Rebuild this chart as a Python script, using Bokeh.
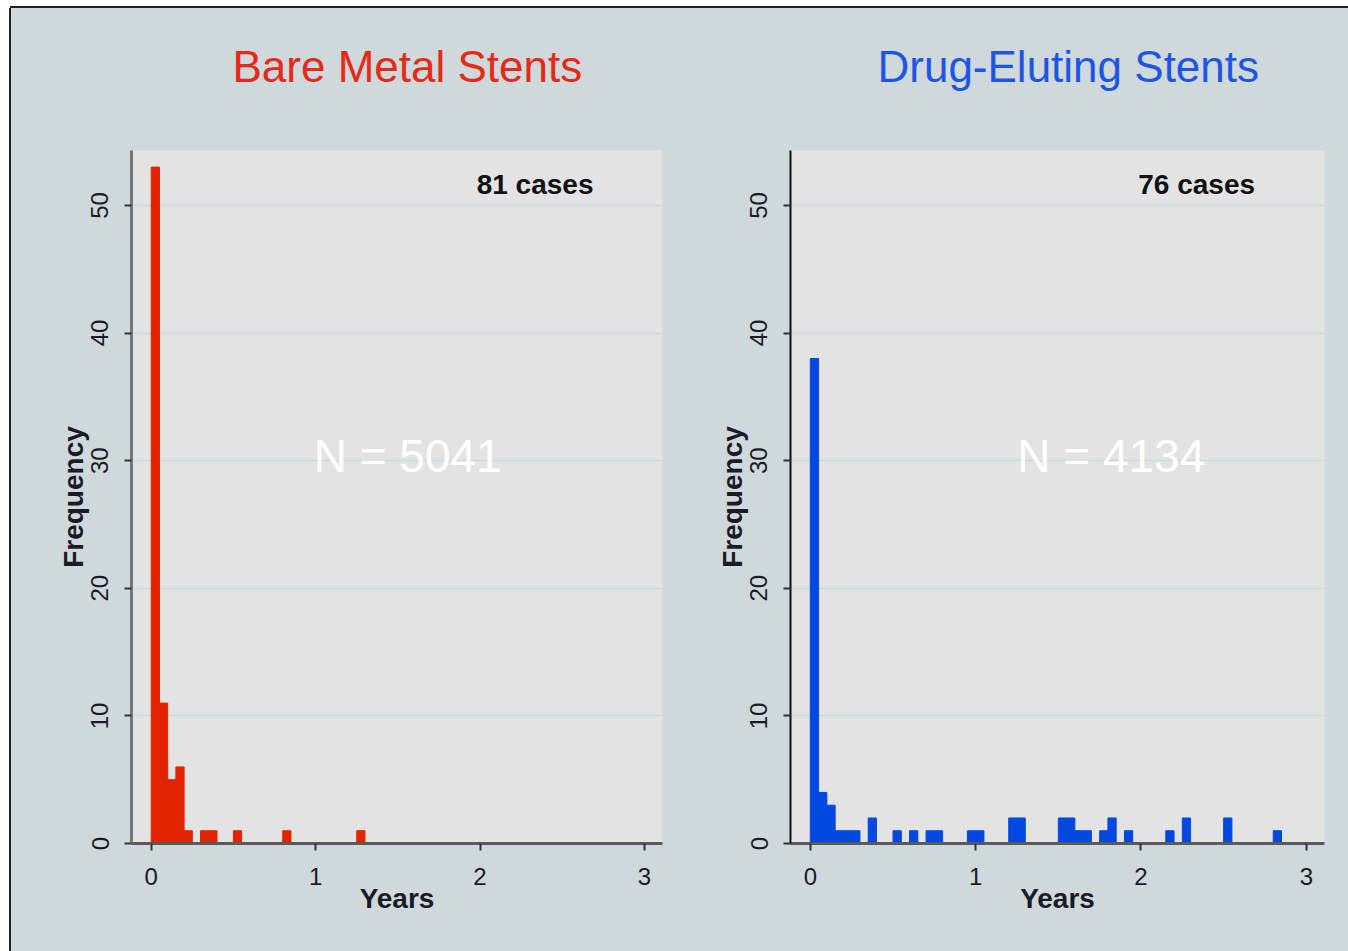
from bokeh.plotting import figure
from bokeh.models import Range1d, FixedTicker, Label, Div, Title
from bokeh.layouts import row, column
from bokeh.embed import file_html
from bokeh.resources import INLINE

# Histogram data: time to stent thrombosis (years), bins of 0.05 years
BIN_WIDTH = 0.05

bms_bin_start = [0.00, 0.05, 0.10, 0.15, 0.20, 0.30, 0.35, 0.50, 0.80, 1.25]
bms_freq = [53, 11, 5, 6, 1, 1, 1, 1, 1, 1]

des_bin_start = [0.00, 0.05, 0.10, 0.15, 0.20, 0.25, 0.35, 0.50, 0.60, 0.70,
                 0.75, 0.95, 1.00, 1.20, 1.25, 1.50, 1.55, 1.60, 1.65, 1.75,
                 1.80, 1.90, 2.15, 2.25, 2.50, 2.80]
des_freq = [38, 4, 3, 1, 1, 1, 2, 1, 1, 1,
            1, 1, 1, 2, 2, 2, 2, 1, 1, 1,
            2, 1, 1, 2, 2, 1]

panel_titles = ["Bare Metal Stents", "Drug-Eluting Stents"]
panel_n = ["N = 5041", "N = 4134"]
panel_cases = ["81 cases", "76 cases"]

x_ticks = [0, 1, 2, 3]
y_ticks = [0, 10, 20, 30, 40, 50]

BG = "#cfd8da"
PLOT_BG = "#e3e3e3"
GRID = "#cfd9dd"
FONT = "Liberation Sans"
TEXT = "#1b1b28"


def make_panel(title, title_color, title_offset, starts, freqs, bar_color,
               n_text, n_x, cases_text, width, border_left, border_right,
               yaxis_color, yaxis_width):
    p = figure(width=width, height=943, output_backend="svg", toolbar_location=None,
               x_range=Range1d(-0.12, 3.11), y_range=Range1d(0, 54.3),
               min_border_left=border_left, min_border_right=border_right,
               min_border_top=142, min_border_bottom=108,
               background_fill_color=PLOT_BG, border_fill_color=BG,
               outline_line_color=None)

    # empty band between the plotting area and the heading
    p.add_layout(Title(text=" ", text_font_size="1px", standoff=57), "above")
    p.add_layout(Title(text=title, text_font=FONT, text_font_size="44px",
                       text_font_style="normal", text_color=title_color,
                       align="left", offset=title_offset,
                       vertical_align="bottom", standoff=0), "above")

    rights = [s + BIN_WIDTH for s in starts]
    p.quad(left=starts, right=rights, bottom=0, top=freqs,
           fill_color=bar_color, line_color=bar_color, line_width=1)

    p.xgrid.grid_line_color = None
    p.ygrid.ticker = FixedTicker(ticks=y_ticks[1:])
    p.ygrid.grid_line_color = GRID
    p.ygrid.grid_line_width = 1.5

    p.xaxis.ticker = FixedTicker(ticks=x_ticks)
    p.yaxis.ticker = FixedTicker(ticks=y_ticks)
    for ax in (p.xaxis, p.yaxis):
        ax.major_label_text_font = FONT
        ax.major_label_text_font_size = "24px"
        ax.major_label_text_color = TEXT
        ax.axis_label_text_font = FONT
        ax.axis_label_text_font_size = "28px"
        ax.axis_label_text_font_style = "bold"
        ax.axis_label_text_color = TEXT
        ax.major_tick_in = 0
        ax.major_tick_out = 7
        ax.minor_tick_line_color = None
        ax.major_tick_line_color = "#333333"
        ax.major_tick_line_width = 2

    p.xaxis.axis_label = "Years"
    p.xaxis.axis_line_color = "#5a5a5a"
    p.xaxis.axis_line_width = 3
    p.xaxis.major_label_standoff = 17
    p.xaxis.axis_label_standoff = -5

    p.yaxis.axis_label = "Frequency"
    p.yaxis.axis_line_color = yaxis_color
    p.yaxis.axis_line_width = yaxis_width
    p.yaxis.major_label_orientation = "parallel"
    p.yaxis.major_label_standoff = 16
    p.yaxis.axis_label_standoff = 0

    p.add_layout(Label(x=n_x, y=30.4, text=n_text, text_align="center",
                       text_baseline="middle", text_font=FONT,
                       text_font_size="46px", text_color="white"))
    p.add_layout(Label(x=2.69, y=51.6, text=cases_text, text_align="right",
                       text_baseline="middle", text_font=FONT,
                       text_font_size="28px", text_font_style="bold",
                       text_color="#111111"))
    return p


p1 = make_panel(panel_titles[0], "#e62a17", 101, bms_bin_start, bms_freq, "#e22300",
                panel_n[0], 1.56, panel_cases[0], 663, 120, 12, "#777777", 3)
p2 = make_panel(panel_titles[1], "#1f55e6", 87, des_bin_start, des_freq, "#0048df",
                panel_n[1], 1.82, panel_cases[1], 674, 116, 24, "#111111", 2)

top_strip = Div(width=1348, height=8, margin=0, styles={
    "background": "linear-gradient(to right, #ffffff 10px, transparent 10px), "
                  "linear-gradient(to bottom, #ffffff 6px, #222222 6px)"})
left_strip = Div(width=11, height=943, margin=0, styles={
    "background": "linear-gradient(to right, #ffffff 9px, #222222 9px)"})

panels = row(left_strip, p1, p2, styles={"background": BG})
layout = column(top_strip, panels)

open("out.html", "w").write(file_html(layout, INLINE))
